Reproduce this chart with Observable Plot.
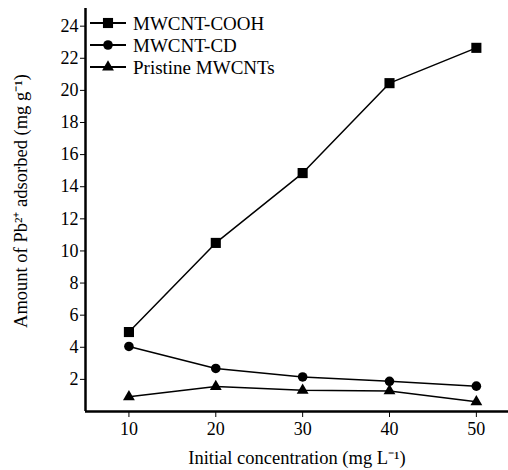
<!DOCTYPE html>
<html>
<head>
<meta charset="utf-8">
<script src="https://cdn.jsdelivr.net/npm/d3@7"></script>
<script src="https://cdn.jsdelivr.net/npm/@observablehq/plot@0.6"></script>
<style>
  html, body { margin: 0; padding: 0; background: #fff; }
  #chart { position: relative; width: 508px; height: 470px; }
</style>
</head>
<body>
<div id="chart"></div>
<script>
const concentrations = [10, 20, 30, 40, 50];
const cooh = [4.95, 10.5, 14.85, 20.45, 22.65];
const cd = [4.05, 2.68, 2.15, 1.88, 1.58];
const pristine = [0.92, 1.55, 1.32, 1.28, 0.6];
const seriesNames = ["MWCNT-COOH", "MWCNT-CD", "Pristine MWCNTs"];
const seriesSymbols = ["square", "circle", "triangle"];
const seriesR = [5.7, 4.8, 4.4];
const xTicks = [10, 20, 30, 40, 50];
const yTicks = [2, 4, 6, 8, 10, 12, 14, 16, 18, 20, 22, 24];

const FONT = "'Liberation Serif', 'Times New Roman', serif";

const seriesValues = [cooh, cd, pristine];
const data = seriesValues.map((vals, i) =>
  concentrations.map((c, j) => ({series: seriesNames[i], x: c, y: vals[j]}))
);

const marks = [
  Plot.ruleX([5], {stroke: "#000", strokeWidth: 2.5}),
  Plot.ruleY([0], {stroke: "#000", strokeWidth: 2.5}),
  Plot.axisX({ticks: xTicks, tickSize: 6, tickPadding: 5, fontSize: 18, tickFormat: d => d, label: null}),
  Plot.axisY({ticks: yTicks, tickSize: 5, tickPadding: 2, fontSize: 18, tickFormat: d => d, label: null}),
  Plot.axisX({ticks: [], fontSize: 18.5,
    label: "Initial concentration (mg L⁻¹)", labelAnchor: "center", labelArrow: "none", labelOffset: 52}),
  Plot.axisY({ticks: [], fontSize: 18.5,
    label: "Amount of Pb²⁺ adsorbed (mg g⁻¹)", labelAnchor: "center", labelArrow: "none", labelOffset: 72})
];
data.forEach((d, i) => {
  marks.push(Plot.line(d, {x: "x", y: "y", stroke: "#000", strokeWidth: 1.5}));
  marks.push(Plot.dot(d, {x: "x", y: "y", symbol: () => seriesSymbols[i], r: seriesR[i], fill: "#000", stroke: "none"}));
});

const chart = Plot.plot({
  width: 508,
  height: 470,
  marginLeft: 85,
  marginRight: 0,
  marginTop: 8,
  marginBottom: 59,
  style: {fontSize: "18px", color: "#000", background: "#fff", overflow: "visible"},
  x: {domain: [5, 53.7]},
  y: {domain: [0, 25.1]},
  marks
});

// legend (inside top-left)
const svg = d3.select(chart);
const legendY = [23, 45, 67];
const g = svg.append("g").attr("font-size", 19).attr("text-anchor", "start");
seriesNames.forEach((name, i) => {
  const y = legendY[i];
  g.append("line").attr("x1", 90).attr("x2", 126).attr("y1", y).attr("y2", y)
    .attr("stroke", "#000").attr("stroke-width", 1.8);
  const sym = {square: d3.symbolSquare, circle: d3.symbolCircle, triangle: d3.symbolTriangle}[seriesSymbols[i]];
  g.append("path").attr("d", d3.symbol(sym, Math.PI * seriesR[i] * seriesR[i])())
    .attr("transform", `translate(108,${y})`).attr("fill", "#000");
  g.append("text").attr("x", 133).attr("y", y).attr("dy", "0.35em").attr("fill", "#000").text(name);
});

// nudge the y-axis title upward along the axis
svg.selectAll("text").filter(function() { return this.textContent.startsWith("Amount"); }).attr("dx", 9);

chart.style.setProperty("font-family", FONT);
chart.querySelectorAll("g, text, tspan").forEach(el => {
  el.setAttribute("font-family", FONT);
});

document.getElementById("chart").appendChild(chart);
</script>
</body>
</html>
